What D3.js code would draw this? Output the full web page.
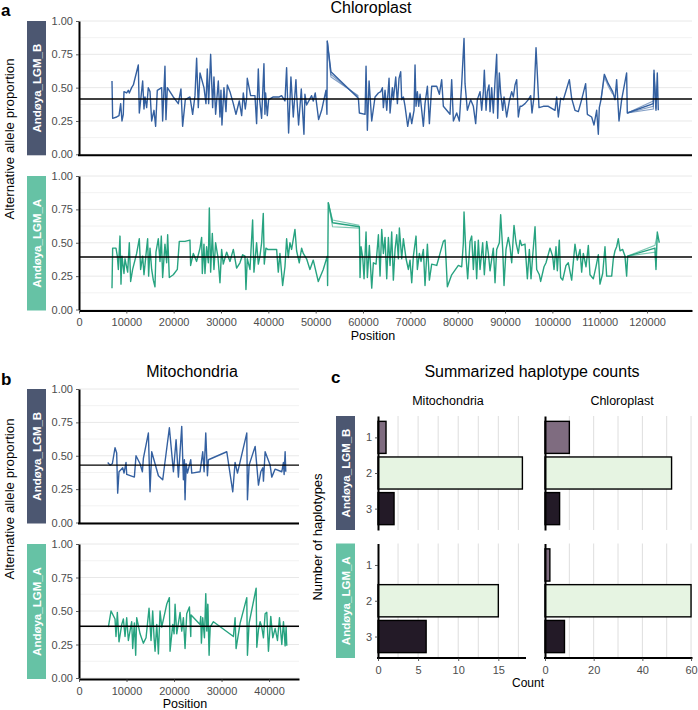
<!DOCTYPE html>
<html>
<head>
<meta charset="utf-8">
<script src="https://cdn.jsdelivr.net/npm/d3@7"></script>
<style>
  body { margin: 0; background: #fff; }
  svg text { font-family: "Liberation Sans", Arial, Helvetica, sans-serif; }
</style>
</head>
<body>
<svg id="fig" width="698" height="710"></svg>
<script>
// ---- data: alternative allele proportion along the organelle genomes ----
var chloroB = [[6970,0.55],[7110,0.27],[7960,0.28],[8450,0.29],[8800,0.38],[9080,0.25],[9360,0.30],[9500,0.47],[10070,0.46],[10420,0.48],[10630,0.46],[11120,0.50],[11480,0.52],[12530,0.67],[12740,0.31],[13450,0.55],[13730,0.34],[13940,0.43],[14290,0.35],[14640,0.50],[15000,0.47],[15350,0.25],[15840,0.33],[16190,0.21],[16540,0.48],[17460,0.50],[17670,0.25],[18160,0.66],[18370,0.26],[18660,0.50],[19920,0.43],[20980,0.38],[21540,0.49],[21890,0.21],[22460,0.41],[23440,0.43],[24010,0.30],[24500,0.44],[24850,0.72],[25200,0.35],[25560,0.61],[26400,0.50],[26820,0.38],[27100,0.64],[27390,0.38],[27810,0.75],[28230,0.35],[28510,0.58],[28860,0.30],[29430,0.55],[29780,0.28],[29990,0.48],[30200,0.22],[30620,0.50],[31050,0.32],[31330,0.52],[31890,0.47],[32600,0.38],[33160,0.30],[33860,0.40],[34360,0.29],[34710,0.46],[35130,0.34],[35410,0.42],[35550,0.57],[36260,0.44],[37170,0.44],[37520,0.23],[37880,0.64],[38090,0.43],[38580,0.27],[39070,0.68],[39280,0.30],[39420,0.46],[39780,0.29],[40060,0.41],[41040,0.43],[42310,0.43],[42800,0.44],[43510,0.40],[43860,0.65],[44280,0.16],[44770,0.58],[45270,0.28],[45830,0.56],[45970,0.45],[46390,0.22],[46960,0.49],[47520,0.15],[47730,0.45],[48080,0.37],[49140,0.44],[49490,0.40],[49910,0.46],[50620,0.26],[51250,0.33],[52170,0.48],[52380,0.30],[52450,0.85],[53220,0.62],[59020,0.42],[59230,0.31],[60430,0.30],[60640,0.66],[60920,0.18],[61280,0.55],[61840,0.25],[62540,0.43],[63250,0.46],[63740,0.47],[64090,0.50],[64300,0.35],[64650,0.48],[65010,0.33],[65500,0.57],[65710,0.31],[66200,0.50],[66410,0.41],[66910,0.58],[67260,0.38],[67610,0.57],[67960,0.62],[68170,0.41],[68530,0.43],[68880,0.36],[69440,0.21],[69930,0.31],[70290,0.23],[70780,0.33],[70990,0.67],[71200,0.36],[71480,0.47],[71760,0.36],[72050,0.45],[72400,0.33],[72750,0.21],[73100,0.38],[73600,0.51],[74020,0.23],[74510,0.51],[75570,0.51],[76130,0.45],[76620,0.56],[76970,0.36],[77680,0.33],[78380,0.30],[78730,0.56],[79090,0.25],[79790,0.31],[80350,0.25],[80850,0.53],[81340,0.87],[81550,0.53],[82040,0.33],[82750,0.41],[83310,0.36],[83800,0.23],[84150,0.41],[84720,0.47],[85070,0.33],[85420,0.47],[85630,0.63],[85990,0.33],[86270,0.47],[86620,0.52],[86830,0.32],[87180,0.50],[87530,0.31],[87890,0.55],[88240,0.75],[88450,0.27],[88800,0.61],[89080,0.46],[89510,0.33],[89790,0.43],[90350,0.28],[90910,0.40],[91410,0.47],[91760,0.43],[92110,0.52],[92460,0.56],[92810,0.28],[93170,0.36],[93520,0.36],[94220,0.38],[94930,0.41],[95420,0.44],[95700,0.31],[96120,0.43],[96550,0.80],[97180,0.35],[98090,0.36],[99150,0.36],[100560,0.33],[100910,0.43],[101260,0.28],[101750,0.42],[102320,0.41],[102670,0.45],[103590,0.56],[104080,0.42],[104780,0.33],[105490,0.32],[106190,0.41],[107030,0.53],[107390,0.30],[108300,0.28],[108800,0.22],[109360,0.33],[109710,0.15],[109920,0.35],[110280,0.41],[110980,0.60],[111820,0.53],[112740,0.47],[113230,0.41],[113580,0.56],[114080,0.25],[114640,0.41],[115690,0.61],[115830,0.31],[121330,0.38],[121470,0.63],[121890,0.33],[122170,0.61],[122380,0.33]];

var chloroA = [[6970,0.16],[7110,0.46],[7810,0.46],[8100,0.40],[8310,0.30],[8660,0.55],[8870,0.19],[9080,0.40],[9500,0.27],[9720,0.38],[10280,0.28],[10630,0.50],[10910,0.21],[11330,0.30],[12180,0.42],[12740,0.53],[13020,0.30],[13450,0.40],[13730,0.26],[14290,0.46],[14500,0.53],[14710,0.25],[15000,0.46],[15350,0.30],[15700,0.22],[16050,0.17],[16260,0.43],[16750,0.53],[17110,0.36],[17390,0.55],[17670,0.24],[18160,0.49],[18520,0.35],[18730,0.56],[19080,0.24],[19920,0.26],[20770,0.30],[21190,0.51],[22390,0.51],[23440,0.52],[23580,0.33],[24150,0.42],[24850,0.36],[25560,0.46],[25910,0.54],[26050,0.27],[26400,0.49],[26610,0.27],[26960,0.47],[27320,0.35],[27530,0.76],[27810,0.28],[28160,0.57],[28510,0.30],[28860,0.50],[29360,0.39],[29780,0.20],[30130,0.45],[30480,0.34],[31190,0.43],[31890,0.36],[32600,0.45],[33300,0.31],[34000,0.35],[34570,0.41],[35060,0.40],[35270,0.15],[35550,0.38],[36120,0.30],[36680,0.67],[36960,0.28],[37520,0.50],[37880,0.34],[38230,0.40],[38580,0.50],[38930,0.72],[39140,0.34],[39490,0.46],[39850,0.45],[40690,0.45],[41750,0.45],[42100,0.28],[42450,0.42],[43020,0.18],[43510,0.32],[43860,0.53],[44210,0.39],[44560,0.50],[44910,0.45],[45620,0.60],[45970,0.44],[46530,0.35],[47030,0.46],[47380,0.42],[48080,0.38],[48790,0.30],[49490,0.37],[50550,0.21],[51600,0.30],[52450,0.40],[52520,0.18],[52660,0.80],[53570,0.65],[59230,0.62],[59370,0.24],[59590,0.47],[59940,0.39],[60220,0.23],[60640,0.58],[60920,0.24],[61340,0.48],[61840,0.16],[62190,0.35],[62750,0.34],[63250,0.56],[63600,0.25],[63950,0.60],[64300,0.42],[64650,0.54],[65010,0.23],[65360,0.54],[65710,0.33],[66060,0.58],[66410,0.22],[66770,0.45],[67120,0.56],[67470,0.38],[67680,0.61],[68170,0.38],[68530,0.53],[69090,0.38],[69580,0.30],[69930,0.37],[70290,0.20],[70640,0.40],[71200,0.55],[71480,0.30],[71910,0.42],[72260,0.36],[72750,0.45],[73100,0.18],[73600,0.49],[74020,0.22],[74510,0.34],[75570,0.33],[76270,0.42],[76970,0.51],[77330,0.52],[77820,0.17],[78730,0.26],[80140,0.33],[80850,0.32],[81200,0.50],[81340,0.73],[81760,0.40],[82110,0.23],[82610,0.51],[82960,0.55],[83310,0.30],[83660,0.51],[84010,0.23],[84360,0.52],[84720,0.30],[85280,0.50],[85630,0.26],[86130,0.51],[86480,0.42],[86830,0.29],[87530,0.46],[87890,0.20],[88240,0.45],[88800,0.50],[89080,0.71],[89510,0.45],[89790,0.18],[90210,0.45],[90700,0.54],[91050,0.47],[91410,0.35],[91900,0.63],[92320,0.50],[92810,0.42],[93170,0.52],[93520,0.48],[94220,0.49],[94720,0.23],[95140,0.45],[95490,0.23],[95840,0.40],[96340,0.62],[96690,0.30],[97250,0.26],[97530,0.21],[98240,0.32],[98660,0.35],[99500,0.46],[100060,0.40],[100350,0.30],[100770,0.47],[101050,0.29],[101470,0.52],[101750,0.24],[102180,0.22],[102880,0.33],[103370,0.35],[104080,0.22],[104780,0.49],[105280,0.37],[105840,0.45],[106190,0.28],[106540,0.42],[107110,0.32],[107600,0.48],[107950,0.26],[108650,0.23],[109210,0.32],[109710,0.41],[110060,0.19],[110630,0.27],[111120,0.47],[111470,0.25],[112530,0.25],[112880,0.38],[113230,0.44],[113580,0.47],[113930,0.53],[114290,0.44],[114850,0.45],[115340,0.40],[115690,0.25],[115910,0.40],[121680,0.46],[121890,0.30],[122170,0.58],[122590,0.50]];

var mitoB = [[6040,0.45],[6530,0.43],[7020,0.44],[7580,0.56],[7930,0.52],[8140,0.22],[8420,0.38],[9200,0.41],[9480,0.37],[9900,0.45],[10040,0.36],[11650,0.34],[12000,0.50],[12850,0.44],[13340,0.38],[13550,0.48],[14600,0.67],[14950,0.23],[15300,0.53],[16710,0.35],[17620,0.32],[19020,0.71],[19870,0.38],[20430,0.62],[20920,0.34],[21620,0.72],[21970,0.32],[22180,0.47],[22320,0.17],[22530,0.44],[22820,0.37],[23520,0.47],[23730,0.37],[25480,0.38],[26040,0.53],[26330,0.38],[26680,0.67],[27030,0.35],[27240,0.47],[31100,0.53],[32360,0.23],[32850,0.45],[33350,0.37],[35310,0.67],[35450,0.17],[35800,0.43],[37070,0.57],[37770,0.28],[38260,0.38],[38680,0.41],[38820,0.31],[39170,0.53],[40220,0.43],[40570,0.34],[41280,0.40],[42680,0.38],[43030,0.45],[43170,0.36],[43380,0.53],[43520,0.38]];

var mitoA = [[6180,0.38],[6740,0.50],[7580,0.44],[7790,0.31],[8070,0.49],[8420,0.27],[9000,0.40],[9340,0.44],[9690,0.31],[10040,0.45],[10390,0.28],[11090,0.42],[11300,0.22],[11650,0.41],[11930,0.17],[12140,0.45],[12850,0.33],[13550,0.26],[14110,0.30],[14740,0.52],[15160,0.28],[15510,0.50],[15800,0.30],[16010,0.20],[16360,0.40],[16710,0.18],[17060,0.50],[17410,0.38],[18460,0.55],[19020,0.60],[19160,0.20],[19730,0.40],[20010,0.33],[20220,0.55],[20570,0.33],[21270,0.49],[21620,0.35],[21970,0.45],[22320,0.22],[22670,0.48],[23240,0.53],[23520,0.31],[23590,0.47],[25480,0.40],[25620,0.46],[25760,0.26],[26040,0.45],[26400,0.30],[26680,0.63],[26890,0.35],[27100,0.55],[27380,0.17],[27590,0.38],[28290,0.42],[32500,0.31],[32850,0.45],[33060,0.22],[33910,0.41],[35310,0.60],[35450,0.17],[35800,0.41],[37280,0.67],[37420,0.23],[37770,0.36],[38120,0.42],[38470,0.38],[38820,0.30],[39170,0.48],[39520,0.49],[39870,0.20],[40360,0.46],[40780,0.30],[41280,0.37],[41770,0.28],[42190,0.45],[42680,0.25],[43030,0.42],[43380,0.24],[43590,0.38],[43730,0.24]];

// short stretches where the individual replicate lines separate
var chloroBFans = [
  [[52450,0.85],[53220,0.60],[59020,0.43]],
  [[52450,0.85],[53220,0.58],[59020,0.44]],
  [[110280,0.41],[110980,0.58],[111820,0.51],[112740,0.45]],
  [[115830,0.31],[121330,0.36],[121470,0.61],[121890,0.34]],
  [[115830,0.31],[121330,0.34],[121470,0.60],[121890,0.35]],
  [[115830,0.31],[121330,0.40]]
];
var chloroAFans = [
  [[52660,0.80],[53570,0.67],[59230,0.63]],
  [[52660,0.80],[53570,0.62],[59230,0.61]],
  [[115910,0.40],[121680,0.43],[121890,0.32]],
  [[115910,0.40],[121680,0.48],[122170,0.56]]
];
var mitoBFans = [[[22180,0.47],[22320,0.22],[22530,0.44]]];
var mitoAFans = [[[27100,0.55],[27380,0.25],[27590,0.38]]];

var meanChloroB = 0.415, meanChloroA = 0.393;
var meanMitoB = 0.43, meanMitoA = 0.386;

var propTicks = [0, 0.25, 0.5, 0.75, 1];
var chloroTicks = d3.range(0, 120001, 10000);
var mitoTicks = d3.range(0, 40001, 10000);

// ---- data: haplotype counts ----
var haplotypes = ['1', '2', '3'];
var hapColors = ['#7f6c80', '#e6f4e2', '#231a27'];
var mitoCountsB = [1, 18, 2];
var mitoCountsA = [0, 15, 6];
var chloroCountsB = [10, 52, 6];
var chloroCountsA = [2, 60, 8];
var mitoCountTicks = [0, 5, 10, 15];
var chloroCountTicks = [0, 20, 40, 60];

var samples = ['Andøya_LGM_B', 'Andøya_LGM_A'];
var stripColors = ['#4c5771', '#66c2a5'];
var blue = '#3460a0', green = '#27a380';

var svg = d3.select('#fig');
var tickGray = '#4d4d4d';

function styleAxis(g) {
  g.select('.domain').attr('stroke', '#000').attr('stroke-width', 2);
  g.selectAll('.tick line').attr('stroke', '#333').attr('stroke-width', 0.8);
  g.selectAll('.tick text').attr('fill', tickGray).attr('font-size', 11).attr('font-family', null);
}

function strip(x, top, bottom, label, color) {
  svg.append('rect')
    .attr('x', x).attr('y', top)
    .attr('width', 19).attr('height', bottom - top)
    .attr('fill', color);
  svg.append('text')
    .attr('transform', 'translate(' + (x + 9.5) + ',' + ((top + bottom) / 2) + ') rotate(-90)')
    .attr('text-anchor', 'middle')
    .attr('dy', '0.36em')
    .attr('fill', '#fff')
    .attr('font-size', 11.5)
    .attr('font-weight', 'bold')
    .text(label);
}

function lineFacet(o) {
  var x = o.x;
  var y = d3.scaleLinear().domain([0, 1]).range([o.bottom, o.top]);
  var x0 = x.range()[0], x1 = x.range()[1];

  svg.append('g').selectAll('line')
    .data(d3.range(0, 1.0001, 0.125))
    .enter().append('line')
    .attr('x1', x0).attr('x2', x1)
    .attr('y1', function(d) { return y(d); })
    .attr('y2', function(d) { return y(d); })
    .attr('stroke', function(d, i) { return i % 2 ? '#f2f2f2' : '#e8e8e8'; })
    .attr('stroke-width', 1);

  var line = d3.line()
    .x(function(d) { return x(d[0]); })
    .y(function(d) { return y(d[1]); });

  svg.append('g').selectAll('path')
    .data(o.fans)
    .enter().append('path')
    .attr('d', line)
    .attr('fill', 'none')
    .attr('stroke', o.color)
    .attr('stroke-opacity', 0.6)
    .attr('stroke-width', 1.2);

  svg.append('path')
    .datum(o.series)
    .attr('d', line)
    .attr('fill', 'none')
    .attr('stroke', o.color)
    .attr('stroke-width', 1.4)
    .attr('stroke-linejoin', 'round');

  svg.append('line')
    .attr('x1', x0).attr('x2', x1)
    .attr('y1', y(o.mean)).attr('y2', y(o.mean))
    .attr('stroke', '#000').attr('stroke-width', 1.4);

  var ya = svg.append('g')
    .attr('transform', 'translate(' + x0 + ',0)')
    .call(d3.axisLeft(y).tickValues(propTicks).tickFormat(d3.format('.2f')).tickSize(3).tickSizeOuter(0));
  styleAxis(ya);

  if (o.ticks) {
    var xa = svg.append('g')
      .attr('transform', 'translate(0,' + (o.bottom + 1) + ')')
      .call(d3.axisBottom(x).tickValues(o.ticks).tickFormat(d3.format('d')).tickSize(3).tickSizeOuter(0));
    styleAxis(xa);
    xa.selectAll('.tick text').attr('dy', '0.9em');
  } else {
    svg.append('line')
      .attr('x1', x0 - 1).attr('x2', x1)
      .attr('y1', o.bottom + 1).attr('y2', o.bottom + 1)
      .attr('stroke', '#000').attr('stroke-width', 2);
  }

  strip(27, o.top, o.bottom + 1, o.label, o.stripColor);
}

function barFacet(o) {
  var x = o.x;
  var x0 = x.range()[0], x1 = x.range()[1];
  var y = d3.scalePoint().domain(haplotypes).range([o.top, o.bottom]).padding(0.6);
  var bh = y.step() * 0.9;

  svg.append('g').selectAll('line')
    .data(o.grid)
    .enter().append('line')
    .attr('x1', function(d) { return x(d); })
    .attr('x2', function(d) { return x(d); })
    .attr('y1', o.top).attr('y2', o.bottom)
    .attr('stroke', '#dedede').attr('stroke-width', 1);

  var rows = haplotypes.map(function(h, i) { return { h: h, v: o.counts[i], c: hapColors[i] }; })
    .filter(function(d) { return d.v > 0; });

  svg.append('g').selectAll('rect')
    .data(rows)
    .enter().append('rect')
    .attr('x', x(0))
    .attr('y', function(d) { return y(d.h) - bh / 2; })
    .attr('width', function(d) { return x(d.v) - x(0); })
    .attr('height', bh)
    .attr('fill', function(d) { return d.c; })
    .attr('stroke', '#000')
    .attr('stroke-width', 1.4);

  var ya = svg.append('g')
    .attr('transform', 'translate(' + x0 + ',0)')
    .call(d3.axisLeft(y).tickSize(o.labels ? 3 : 0).tickSizeOuter(0));
  styleAxis(ya);
  if (!o.labels) ya.selectAll('.tick text').remove();

  if (o.ticks) {
    var xa = svg.append('g')
      .attr('transform', 'translate(0,' + o.bottom + ')')
      .call(d3.axisBottom(x).tickValues(o.ticks).tickSize(3).tickSizeOuter(0));
    styleAxis(xa);
    xa.select('.domain').attr('d', 'M' + (x0 - 1) + ',0H' + x1);
    xa.selectAll('.tick text').attr('dy', '0.9em');
  }
}

function label(txt, x, y, size, opts) {
  opts = opts || {};
  var t = svg.append('text')
    .attr('x', x).attr('y', y)
    .attr('font-size', size)
    .attr('text-anchor', opts.anchor || 'middle')
    .attr('fill', opts.fill || '#000')
    .text(txt);
  if (opts.bold) t.attr('font-weight', 'bold');
  if (opts.rotate) t.attr('transform', 'rotate(-90,' + x + ',' + y + ')');
  return t;
}

// ---- panel a: chloroplast ----
var xChloro = d3.scaleLinear().domain([0, 129500]).range([79, 692]);
lineFacet({ x: xChloro, top: 21, bottom: 154.3, series: chloroB, fans: chloroBFans, mean: meanChloroB,
  color: blue, label: samples[0], stripColor: stripColors[0] });
lineFacet({ x: xChloro, top: 176, bottom: 309.5, series: chloroA, fans: chloroAFans, mean: meanChloroA,
  color: green, label: samples[1], stripColor: stripColors[1], ticks: chloroTicks });

label('a', 1, 16, 17, { anchor: 'start', bold: true });
label('Chloroplast', 371, 13, 16);
label('Position', 373, 340, 12.5);
label('Alternative allele proportion', 13.5, 139, 13.3, { rotate: true });

// ---- panel b: mitochondria ----
var xMito = d3.scaleLinear().domain([0, 46300]).range([79, 299]);
lineFacet({ x: xMito, top: 389, bottom: 522.5, series: mitoB, fans: mitoBFans, mean: meanMitoB,
  color: blue, label: samples[0], stripColor: stripColors[0] });
lineFacet({ x: xMito, top: 544, bottom: 678, series: mitoA, fans: mitoAFans, mean: meanMitoA,
  color: green, label: samples[1], stripColor: stripColors[1], ticks: mitoTicks });

label('b', 1, 385, 17, { anchor: 'start', bold: true });
label('Mitochondria', 192, 377, 16);
label('Position', 185, 708, 12.5);
label('Alternative allele proportion', 13.5, 499, 13.3, { rotate: true });

// ---- panel c: haplotype counts ----
var xMitoCount = d3.scaleLinear().domain([0, 18.45]).range([378, 526]);
var xChloroCount = d3.scaleLinear().domain([0, 60.6]).range([545, 692.5]);
var mitoGrid = d3.range(2.5, 18, 2.5);
var chloroGrid = d3.range(10, 61, 10);

barFacet({ x: xMitoCount, top: 416, bottom: 530, counts: mitoCountsB, grid: mitoGrid, labels: true });
barFacet({ x: xChloroCount, top: 416, bottom: 530, counts: chloroCountsB, grid: chloroGrid, labels: false });
barFacet({ x: xMitoCount, top: 543.5, bottom: 658, counts: mitoCountsA, grid: mitoGrid, labels: true, ticks: mitoCountTicks });
barFacet({ x: xChloroCount, top: 543.5, bottom: 658, counts: chloroCountsA, grid: chloroGrid, labels: false, ticks: chloroCountTicks });

strip(336, 416, 530, samples[0], stripColors[0]);
strip(336, 543.5, 658, samples[1], stripColors[1]);

label('c', 331, 383, 17, { anchor: 'start', bold: true });
label('Summarized haplotype counts', 532, 377, 16);
label('Mitochondria', 448, 405, 12.5);
label('Chloroplast', 622, 405, 12.5);
label('Count', 528, 687, 12);
label('Number of haplotypes', 322, 537, 13, { rotate: true });
</script>
</body>
</html>
